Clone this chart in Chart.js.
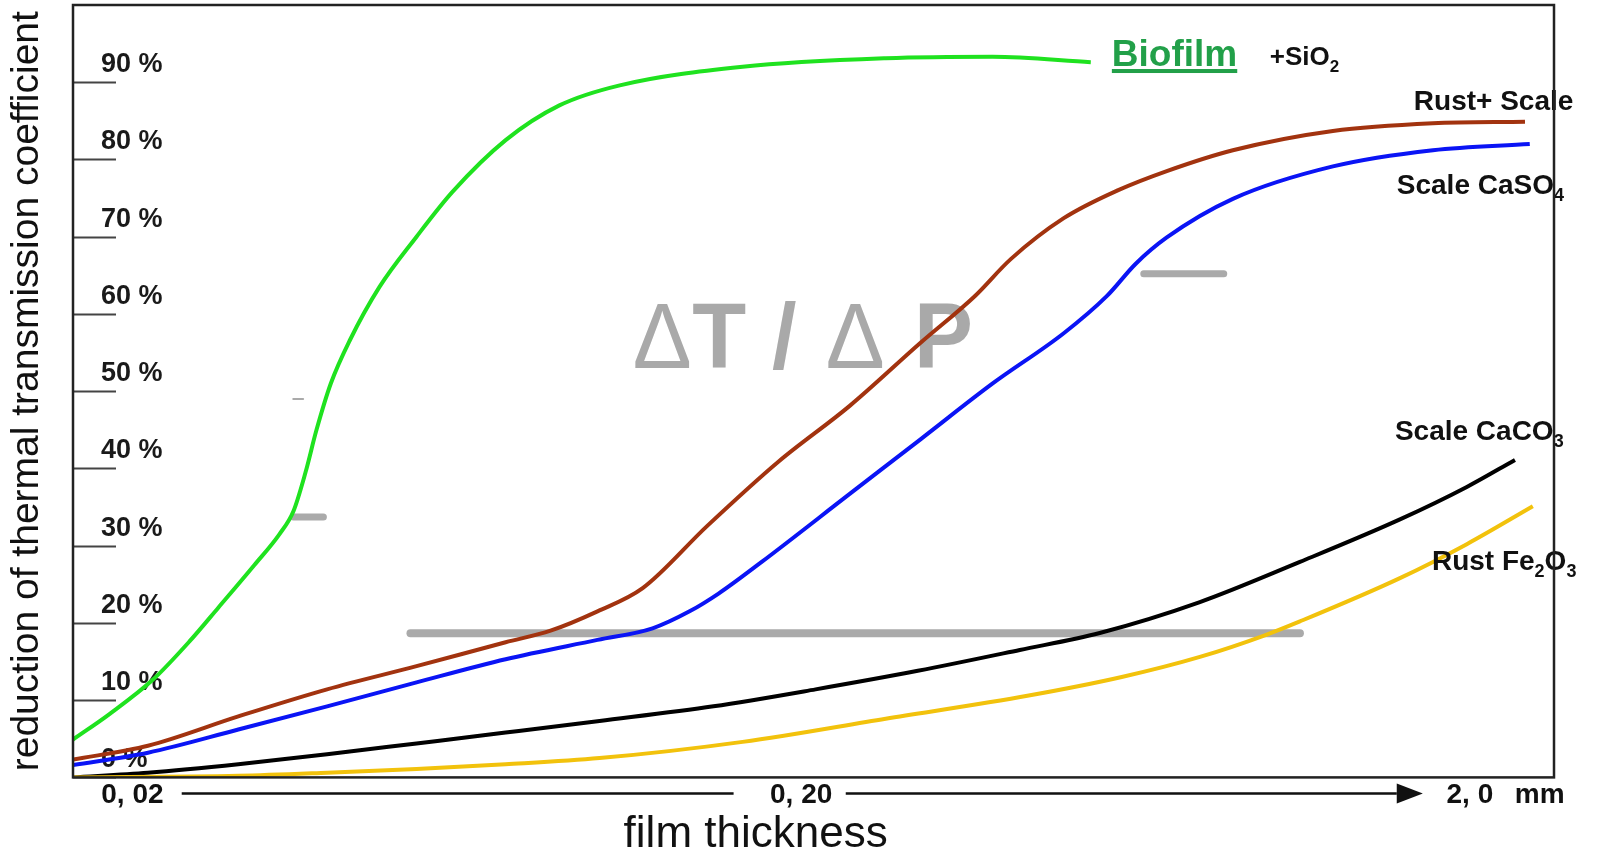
<!DOCTYPE html>
<html>
<head>
<meta charset="utf-8">
<title>Reduction of thermal transmission coefficient vs. film thickness</title>
<script src="https://cdn.jsdelivr.net/npm/chart.js@4.4.1/dist/chart.umd.min.js"></script>
<style>
  html, body { margin: 0; padding: 0; background: #fff; }
  canvas { display: block; }
</style>
</head>
<body>
<canvas id="chart" width="1599" height="856"></canvas>
<script>
// film thickness in mm (log axis), reduction in %
var biofilm = [[0.0163, 4.9], [0.01848, 8.2], [0.02143, 12.6], [0.02434, 17.6], [0.0269, 22.0], [0.03044, 27.5],
  [0.03319, 31.5], [0.03483, 34.5], [0.0363, 39.5], [0.0377, 45.0], [0.0396, 51.0], [0.04223, 56.5],
  [0.04683, 63.5], [0.0532, 70.0], [0.0602, 75.8], [0.0723, 82.5], [0.0870, 87.0], [0.1071, 89.6],
  [0.1635, 92.0], [0.2676, 93.1], [0.3868, 93.3], [0.5422, 92.6]];
var rustScale = [[0.0163, 2.3], [0.0211, 4.1], [0.0288, 7.9], [0.0391, 11.4], [0.0532, 14.4], [0.0723, 17.5],
  [0.0844, 19.0], [0.0992, 21.5], [0.1159, 24.5], [0.1445, 32.5], [0.1851, 40.9], [0.2364, 48.1],
  [0.3020, 56.3], [0.3636, 62.3], [0.4116, 67.1], [0.4940, 72.4], [0.5948, 76.0], [0.7044, 78.5],
  [0.8843, 81.2], [1.248, 83.7], [1.761, 84.7], [2.418, 84.9]];
var scaleCaSO4 = [[0.0163, 1.6], [0.0211, 3.2], [0.0288, 6.2], [0.0391, 9.2], [0.0532, 12.3], [0.0723, 15.3],
  [0.0992, 17.8], [0.1199, 19.3], [0.1362, 21.5], [0.1505, 23.8], [0.1740, 27.8], [0.2364, 36.7],
  [0.3020, 43.8], [0.3868, 51.0], [0.4940, 57.5], [0.5728, 62.3], [0.6330, 66.5], [0.7044, 69.9],
  [0.8843, 74.9], [1.248, 79.1], [1.761, 81.2], [2.458, 82.0]];
var scaleCaCO3 = [[0.0163, 0], [0.0211, 0.6], [0.0288, 1.7], [0.0391, 3.0], [0.0532, 4.4], [0.0723, 5.8],
  [0.0999, 7.3], [0.1479, 9.2], [0.2102, 11.4], [0.2989, 13.8], [0.4246, 16.5], [0.5592, 18.7],
  [0.7894, 22.7], [1.114, 27.9], [1.572, 33.4], [1.979, 37.6], [2.336, 41.1]];
var rustFe2O3 = [[0.0163, 0], [0.0288, 0.2], [0.0391, 0.6], [0.0532, 1.1], [0.0723, 1.7], [0.0999, 2.5],
  [0.1635, 4.6], [0.2676, 7.6], [0.4379, 10.6], [0.6032, 13.0], [0.7894, 15.6], [0.9872, 18.4],
  [1.114, 20.2], [1.572, 25.8], [1.979, 30.2], [2.484, 35.1]];

var xTickValues = [0.02, 0.2, 2.0];
var xTickLabels = ['0, 02', '0, 20', '2, 0'];
var xUnit = 'mm';
function yTickLabel(v) { return v + ' %'; }

// curve names (text, mm, %), "_n" means subscript n
var curveLabels = [
  ['Rust+ Scale', 1.649, 86.4],
  ['Scale CaSO_4', 1.555, 75.5],
  ['Scale CaCO_3', 1.545, 43.7],
  ['Rust Fe_2O_3', 1.755, 26.9]
];
// grey leftover strokes of the original drawing: from mm, to mm, at %
var greyStrokes = [[0.0521, 1.114, 18.65], [0.0348, 0.0386, 33.7], [0.6507, 0.857, 65.2]];

var FONT = "'Liberation Sans', Arial, sans-serif";

function toPoints(arr) {
  return arr.map(function(p) { return { x: p[0], y: p[1] }; });
}

function chemText(ctx, text, x, y, size) {
  var parts = text.split(/_(\d)/);
  for (var i = 0; i < parts.length; i++) {
    if (!parts[i]) continue;
    var sub = i % 2 === 1;
    ctx.font = 'bold ' + (sub ? Math.round(size * 0.65) : size) + 'px ' + FONT;
    ctx.fillText(parts[i], x, sub ? y + size * 0.25 : y);
    x += ctx.measureText(parts[i]).width;
  }
}

var decor = {
  id: 'decor',
  beforeDatasetsDraw: function(chart) {
    var ctx = chart.ctx, a = chart.chartArea, xs = chart.scales.x, ys = chart.scales.y;
    ctx.save();

    // ΔT / ΔP watermark
    ctx.fillStyle = '#a9a9a9';
    ctx.textBaseline = 'alphabetic';
    ctx.translate(xs.getPixelForValue(0.112), ys.getPixelForValue(53.0));
    ctx.scale(0.96, 1);
    var pieces = [['\u0394', 0, ''], ['T', 62, 'bold '], ['/', 145, 'bold '], ['\u0394', 201, ''], ['P', 293, 'bold ']];
    pieces.forEach(function(p) {
      ctx.font = p[2] + '92px ' + FONT;
      ctx.fillText(p[0], p[1], 0);
    });
    ctx.setTransform(1, 0, 0, 1, 0, 0);

    ctx.strokeStyle = '#aaaaaa';
    ctx.lineCap = 'round';
    greyStrokes.forEach(function(g, i) {
      ctx.lineWidth = i === 0 ? 8 : 7;
      var py = ys.getPixelForValue(g[2]);
      ctx.beginPath();
      ctx.moveTo(xs.getPixelForValue(g[0]), py);
      ctx.lineTo(xs.getPixelForValue(g[1]), py);
      ctx.stroke();
    });
    ctx.lineWidth = 2;
    ctx.beginPath();
    ctx.moveTo(xs.getPixelForValue(0.0348), ys.getPixelForValue(49));
    ctx.lineTo(xs.getPixelForValue(0.036), ys.getPixelForValue(49));
    ctx.stroke();

    // short tick marks and their labels inside the frame
    ctx.lineCap = 'butt';
    ctx.strokeStyle = '#444';
    ctx.lineWidth = 2;
    ctx.fillStyle = '#1a1a1a';
    ctx.font = 'bold 27px ' + FONT;
    ctx.textAlign = 'left';
    ctx.textBaseline = 'middle';
    ys.ticks.forEach(function(t) {
      if (t.value >= 100) return;
      var py = Math.round(ys.getPixelForValue(t.value)) + 0.5;
      ctx.beginPath();
      ctx.moveTo(a.left, py);
      ctx.lineTo(a.left + 43, py);
      ctx.stroke();
      ctx.fillText(yTickLabel(t.value), a.left + 28, py - 18);
    });
    ctx.restore();
  },
  afterDatasetsDraw: function(chart) {
    var ctx = chart.ctx, a = chart.chartArea, xs = chart.scales.x, ys = chart.scales.y;
    ctx.save();
    ctx.textBaseline = 'alphabetic';
    ctx.textAlign = 'left';

    // Biofilm +SiO2
    var bx = xs.getPixelForValue(0.583), by = ys.getPixelForValue(92.1);
    ctx.fillStyle = '#22a049';
    ctx.font = 'bold 37px ' + FONT;
    ctx.fillText('Biofilm', bx, by);
    ctx.fillRect(bx, by + 3, ctx.measureText('Biofilm').width, 4);
    ctx.fillStyle = '#111';
    chemText(ctx, '+SiO_2', xs.getPixelForValue(1.004), ys.getPixelForValue(92.2), 26);

    curveLabels.forEach(function(l) {
      chemText(ctx, l[0], xs.getPixelForValue(l[1]), ys.getPixelForValue(l[2]), 28);
    });

    // frame
    ctx.strokeStyle = '#222';
    ctx.lineWidth = 2.5;
    ctx.strokeRect(a.left, a.top, a.right - a.left, a.bottom - a.top);

    // thickness arrow between the tick labels
    var ay = a.bottom + 16;
    ctx.strokeStyle = '#111';
    ctx.fillStyle = '#111';
    ctx.lineWidth = 2.5;
    ctx.beginPath();
    ctx.moveTo(xs.getPixelForValue(0.0237), ay);
    ctx.lineTo(xs.getPixelForValue(0.1585), ay);
    ctx.moveTo(xs.getPixelForValue(0.2332), ay);
    ctx.lineTo(xs.getPixelForValue(1.555), ay);
    ctx.stroke();
    ctx.beginPath();
    ctx.moveTo(xs.getPixelForValue(1.555), ay - 10);
    ctx.lineTo(xs.getPixelForValue(1.701), ay);
    ctx.lineTo(xs.getPixelForValue(1.555), ay + 10);
    ctx.closePath();
    ctx.fill();

    // unit after the last tick label
    ctx.textBaseline = 'middle';
    ctx.font = 'bold 28px ' + FONT;
    ctx.fillText(xUnit, xs.getPixelForValue(2.0) + 45, a.bottom + 18);

    ctx.textBaseline = 'alphabetic';
    ctx.textAlign = 'center';
    ctx.font = '44px ' + FONT;
    ctx.fillText('film thickness', xs.getPixelForValue(0.171), a.bottom + 70);
    ctx.restore();
  }
};

function line(data, color) {
  return { data: toPoints(data), borderColor: color, backgroundColor: color, borderWidth: 4,
    pointRadius: 0, fill: false, cubicInterpolationMode: 'monotone' };
}

new Chart(document.getElementById('chart'), {
  type: 'line',
  data: {
    datasets: [
      line(rustFe2O3, '#f2c20c'),
      line(scaleCaCO3, '#000000'),
      line(scaleCaSO4, '#0a14f5'),
      line(rustScale, '#a2330f'),
      line(biofilm, '#1fe21f')
    ]
  },
  options: {
    responsive: false,
    animation: false,
    devicePixelRatio: 1,
    layout: { padding: { top: 5, right: 45, bottom: 43, left: 0 } },
    plugins: { legend: { display: false }, tooltip: { enabled: false } },
    scales: {
      x: {
        type: 'logarithmic',
        bounds: 'data',
        min: 0.0163,
        max: 2.672,
        grid: { display: false, drawTicks: false },
        border: { display: false },
        afterBuildTicks: function(scale) {
          scale.ticks = xTickValues.map(function(v) { return { value: v }; });
        },
        ticks: {
          autoSkip: false,
          maxRotation: 0,
          padding: 1,
          color: '#111',
          font: { family: FONT, size: 28, weight: 'bold', lineHeight: 1.2 },
          callback: function(value, index) { return xTickLabels[index]; }
        }
      },
      y: {
        min: 0,
        max: 100,
        grid: { display: false, drawTicks: false },
        border: { display: false },
        ticks: { stepSize: 10, display: false },
        title: {
          display: true,
          text: 'reduction of thermal transmission coefficient',
          color: '#111',
          font: { family: FONT, size: 39, lineHeight: 1 },
          padding: { top: 8, bottom: 26 }
        }
      }
    }
  },
  plugins: [decor]
});
</script>
</body>
</html>
